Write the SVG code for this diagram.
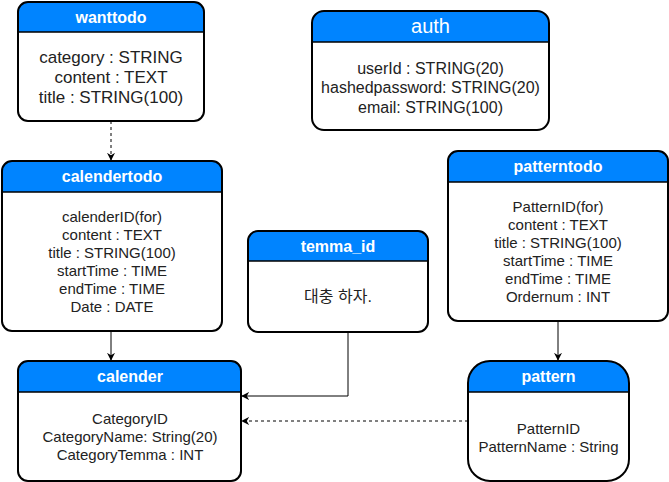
<svg xmlns="http://www.w3.org/2000/svg" width="669" height="482" viewBox="0 0 669 482">
<defs>
<style>
.box{fill:#fff;stroke:none}
.hdr{fill:#0084FF;stroke:none}
.out{fill:none;stroke:#000;stroke-width:2}
.sep{stroke:#000;stroke-width:1.5}
.ht{font-family:"Liberation Sans",Arial,sans-serif;font-size:16px;font-weight:bold;fill:#fff;text-anchor:middle}
.bt{font-family:"Liberation Sans",Arial,sans-serif;font-size:15px;fill:#222;text-anchor:middle}
.kr{font-family:"Liberation Sans","Noto Sans CJK KR",sans-serif;font-size:16px;fill:#222;text-anchor:middle}
.ln{fill:none;stroke:#000;stroke-width:1}
.dash{stroke-dasharray:3 3}
</style>
<marker id="arr" viewBox="0 0 10 10" refX="9" refY="5" markerWidth="8" markerHeight="8" markerUnits="userSpaceOnUse" orient="auto">
<path d="M0,0 L10,5 L0,10 L3,5 Z" fill="#000"/>
</marker>
</defs>
<rect width="669" height="482" fill="#fff"/>

<g id="connectors">
<path class="ln dash" d="M111,121 V160" marker-end="url(#arr)"/>
<path class="ln" d="M111,331 V360" marker-end="url(#arr)"/>
<path class="ln" d="M558,321 V360" marker-end="url(#arr)"/>
<path class="ln" d="M348,332 V396 H242" marker-end="url(#arr)"/>
<path class="ln dash" d="M468,421 H242" marker-end="url(#arr)"/>
</g>

<g id="wanttodo">
<rect class="box" x="18" y="2" width="186" height="119" rx="10"/>
<path class="hdr" d="M18,32 V12 A10,10 0 0 1 28,2 H194 A10,10 0 0 1 204,12 V32 Z"/>
<line class="sep" x1="18" y1="32" x2="204" y2="32"/>
<rect class="out" x="18" y="2" width="186" height="119" rx="10"/>
<text class="ht" x="111" y="23">wanttodo</text>
<text class="bt" x="111" style="font-size:17px"><tspan x="111" y="63">category : STRING</tspan><tspan x="111" y="83">content : TEXT</tspan><tspan x="111" y="103">title : STRING(100)</tspan></text>
</g>

<g id="auth">
<rect class="box" x="312" y="11" width="237" height="119" rx="12"/>
<path class="hdr" d="M312,42 V23 A12,12 0 0 1 324,11 H537 A12,12 0 0 1 549,23 V42 Z"/>
<line class="sep" x1="312" y1="42" x2="549" y2="42"/>
<rect class="out" x="312" y="11" width="237" height="119" rx="12"/>
<text class="ht" x="430.5" y="33" style="font-size:20px;font-weight:normal">auth</text>
<text class="bt" style="font-size:16px"><tspan x="430.5" y="74">userId : STRING(20)</tspan><tspan x="430.5" y="93">hashedpassword: STRING(20)</tspan><tspan x="430.5" y="113">email: STRING(100)</tspan></text>
</g>

<g id="calendertodo">
<rect class="box" x="2" y="161" width="220" height="170" rx="10"/>
<path class="hdr" d="M2,192 V171 A10,10 0 0 1 12,161 H212 A10,10 0 0 1 222,171 V192 Z"/>
<line class="sep" x1="2" y1="192" x2="222" y2="192"/>
<rect class="out" x="2" y="161" width="220" height="170" rx="10"/>
<text class="ht" x="112" y="182">calendertodo</text>
<text class="bt"><tspan x="112" y="222">calenderID(for)</tspan><tspan x="112" y="240">content : TEXT</tspan><tspan x="112" y="258">title : STRING(100)</tspan><tspan x="112" y="276">startTime : TIME</tspan><tspan x="112" y="294">endTime : TIME</tspan><tspan x="112" y="312">Date : DATE</tspan></text>
</g>

<g id="temma_id">
<rect class="box" x="248" y="231" width="180" height="101" rx="10"/>
<path class="hdr" d="M248,261 V241 A10,10 0 0 1 258,231 H418 A10,10 0 0 1 428,241 V261 Z"/>
<line class="sep" x1="248" y1="261" x2="428" y2="261"/>
<rect class="out" x="248" y="231" width="180" height="101" rx="10"/>
<text class="ht" x="338" y="252">temma_id</text>
<text class="kr" x="338" y="302">대충 하자.</text>
</g>

<g id="patterntodo">
<rect class="box" x="448" y="151" width="220" height="170" rx="10"/>
<path class="hdr" d="M448,182 V161 A10,10 0 0 1 458,151 H658 A10,10 0 0 1 668,161 V182 Z"/>
<line class="sep" x1="448" y1="182" x2="668" y2="182"/>
<rect class="out" x="448" y="151" width="220" height="170" rx="10"/>
<text class="ht" x="558" y="172">patterntodo</text>
<text class="bt"><tspan x="558" y="212">PatternID(for)</tspan><tspan x="558" y="230">content : TEXT</tspan><tspan x="558" y="248">title : STRING(100)</tspan><tspan x="558" y="266">startTime : TIME</tspan><tspan x="558" y="284">endTime : TIME</tspan><tspan x="558" y="302">Ordernum : INT</tspan></text>
</g>

<g id="calender">
<rect class="box" x="18" y="361" width="223" height="120" rx="10"/>
<path class="hdr" d="M18,392 V371 A10,10 0 0 1 28,361 H231 A10,10 0 0 1 241,371 V392 Z"/>
<line class="sep" x1="18" y1="392" x2="241" y2="392"/>
<rect class="out" x="18" y="361" width="223" height="120" rx="10"/>
<text class="ht" x="130" y="382">calender</text>
<text class="bt"><tspan x="130" y="424">CategoryID</tspan><tspan x="130" y="442">CategoryName: String(20)</tspan><tspan x="130" y="460">CategoryTemma : INT</tspan></text>
</g>

<g id="pattern">
<rect class="box" x="468" y="361" width="161" height="120" rx="22"/>
<path class="hdr" d="M468,392 V383 A22,22 0 0 1 490,361 H607 A22,22 0 0 1 629,383 V392 Z"/>
<line class="sep" x1="468" y1="392" x2="629" y2="392"/>
<rect class="out" x="468" y="361" width="161" height="120" rx="22"/>
<text class="ht" x="548.5" y="382">pattern</text>
<text class="bt"><tspan x="548.5" y="434">PatternID</tspan><tspan x="548.5" y="452">PatternName : String</tspan></text>
</g>
</svg>
